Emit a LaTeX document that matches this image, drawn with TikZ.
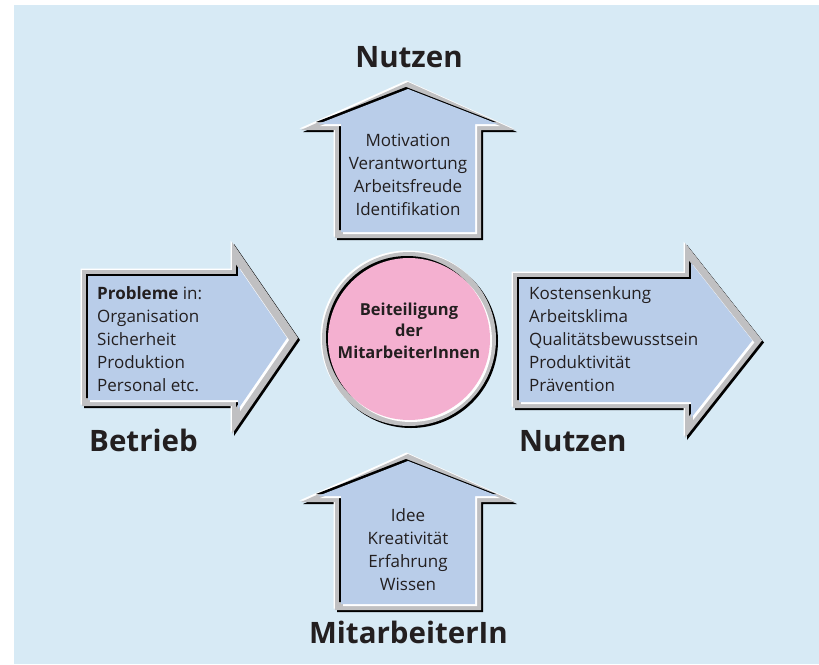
\documentclass[tikz,border=0pt]{standalone}
\usepackage{fontspec}
\setmainfont{Open Sans}
\definecolor{bg}{RGB}{215,234,245}
\definecolor{arrowfill}{RGB}{185,205,233}
\definecolor{pinkfill}{RGB}{244,176,208}
\definecolor{band}{RGB}{192,192,194}
\definecolor{ink}{RGB}{35,31,32}
\newcommand\bevelpoly[3]{%
  \fill[black,shift={(2,2)}] #1;
  \fill[white,shift={(-1.5,-1.5)}] #1;
  \fill[band] #1;
  \fill[black,shift={(-2,-2)}] #2;
  \fill[white,shift={(2,2)}] #2;
  \fill[#3] #2;
}
\tikzset{
  title/.style={font=\fontsize{29.5}{34}\selectfont\bfseries, text=ink, inner sep=0pt, anchor=base},
  body/.style={font=\fontsize{17}{23}\selectfont, text=ink, inner sep=0pt},
  centre/.style={font=\fontsize{16.5}{21.5}\selectfont\bfseries, text=ink, inner sep=0pt, align=center, anchor=north},
}
\begin{document}
\begin{tikzpicture}[x=1pt,y=-1pt]
\useasboundingbox (0,0) rectangle (819,664);
\fill[bg] (14,5) rectangle (819,664);
% top arrow
\bevelpoly{(335,238) -- (335,130) -- (301,130) -- (408,82) -- (515,130) -- (481,130) -- (481,238) -- cycle}
          {(341,232) -- (341,124) -- (318,124) -- (408,89) -- (498,124) -- (475,124) -- (475,232) -- cycle}{arrowfill}
% bottom arrow
\bevelpoly{(335,610) -- (335,502) -- (301,502) -- (408,454) -- (515,502) -- (481,502) -- (481,610) -- cycle}
          {(341,604) -- (341,496) -- (318,496) -- (408,461) -- (498,496) -- (475,496) -- (475,604) -- cycle}{arrowfill}
% left arrow
\bevelpoly{(82,270) -- (232,270) -- (232,242) -- (298,338) -- (232,434) -- (232,406) -- (82,406) -- cycle}
          {(88,276) -- (238,276) -- (238,266.7) -- (287,338) -- (238,409.3) -- (238,400) -- (88,400) -- cycle}{arrowfill}
% right arrow
\bevelpoly{(513,273) -- (685,273) -- (685,243) -- (762,340.5) -- (685,438) -- (685,408) -- (513,408) -- cycle}
          {(519,279) -- (691,279) -- (691,262.9) -- (752.3,340.5) -- (691,418.1) -- (691,402) -- (519,402) -- cycle}{arrowfill}
% centre circle
\fill[black] (411,341) circle[radius=87pt];
\fill[white] (407.5,337.5) circle[radius=87pt];
\fill[band] (409,339) circle[radius=87pt];
\fill[black] (407,337) circle[radius=81pt];
\fill[white] (411,341) circle[radius=81pt];
\fill[pinkfill] (409,339) circle[radius=81pt];
% texts
\node[title] (ttitle) at (409,67) {Nutzen};
\node[title] (ltitle) at (143.5,451) {Betrieb};
\node[title, anchor=base west] (rtitle) at (519,451) {Nutzen};
\node[title] (btitle) at (408.5,643) {MitarbeiterIn};
\node[body, align=center, anchor=north] (ttext) at (408,133) {\rule{0pt}{13pt}Motivation\\Verantwortung\\Arbeitsfreude\\Identifikation};
\node[body, align=center, anchor=north] (btext) at (408,508) {\rule{0pt}{13pt}Idee\\Kreativität\\Erfahrung\\Wissen};
\node[body, align=left, anchor=north west] (ltext) at (97,286.5) {\rule{0pt}{13pt}\textbf{Probleme} in:\\Organisation\\Sicherheit\\Produktion\\Personal etc.};
\node[body, align=left, anchor=north west] (rtext) at (529,286.5) {\rule{0pt}{13pt}Kostensenkung\\Arbeitsklima\\Qualitätsbewusstsein\\Produktivität\\Prävention};
\node[centre] (ctext) at (409,302) {\rule{0pt}{13pt}Beiteiligung\\der\\MitarbeiterInnen};
\end{tikzpicture}
\end{document}
